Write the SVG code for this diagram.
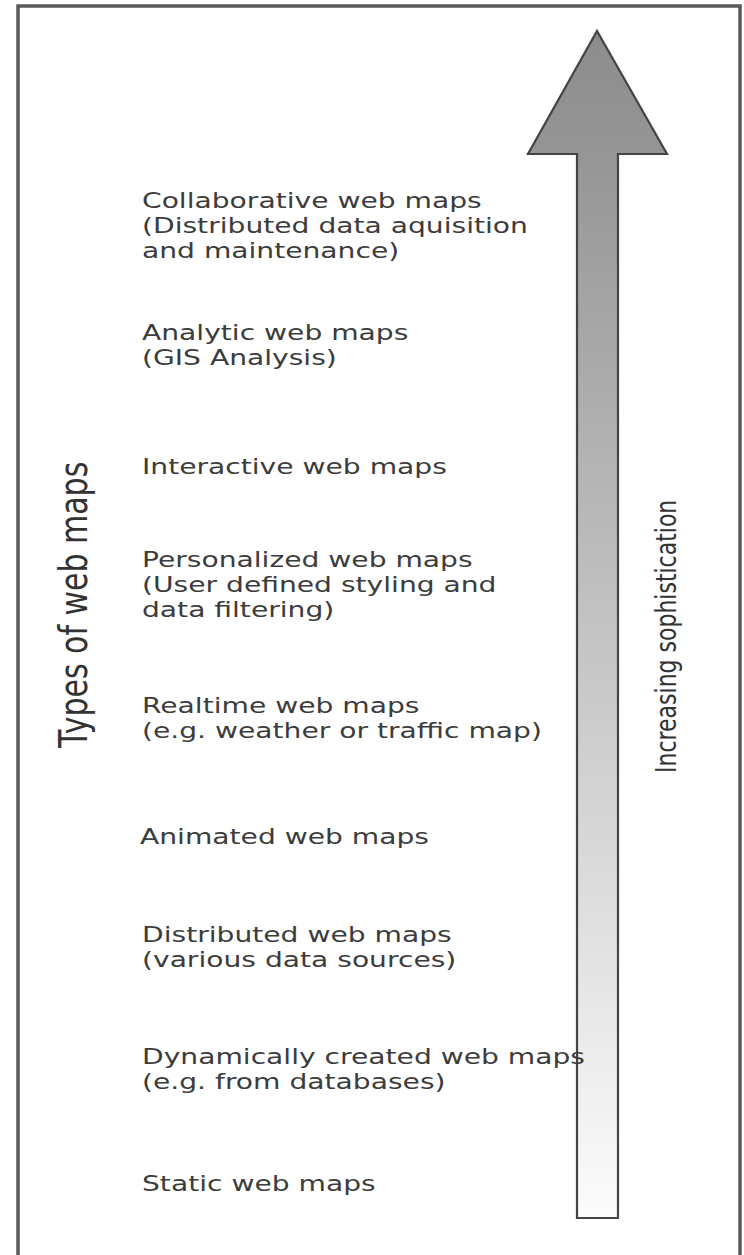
<svg xmlns="http://www.w3.org/2000/svg" width="744" height="1255" viewBox="0 0 744 1255">
<defs>
<linearGradient id="arrowGrad" gradientUnits="userSpaceOnUse" x1="0" y1="31" x2="0" y2="1218">
<stop offset="0" stop-color="#8c8c8c"/>
<stop offset="0.1" stop-color="#959595"/>
<stop offset="1" stop-color="#fcfcfc"/>
</linearGradient>
<style>
.lbl{font-family:"DejaVu Sans","Liberation Sans",sans-serif;font-size:22px;fill:#3c3c3c;}
.side{font-family:"DejaVu Sans","Liberation Sans",sans-serif;fill:#333;}
</style>
</defs>
<rect x="0" y="0" width="744" height="1255" fill="#ffffff"/>
<rect id="frame" x="18" y="6" width="722" height="1270" fill="none" stroke="#5a5a5a" stroke-width="3.5"/>
<g id="connectors">
<path id="arrow" d="M577,1218 L577,154 L528,154 L597,31 L667,154 L618,154 L618,1218 Z" fill="url(#arrowGrad)" stroke="#444" stroke-width="2.2" stroke-linejoin="miter"/>
</g>
<g id="n-collaborative"><text class="lbl" transform="translate(142,208) scale(1.28,1)"><tspan x="0" y="0">Collaborative web maps</tspan><tspan x="0" y="25">(Distributed data aquisition</tspan><tspan x="0" y="50">and maintenance)</tspan></text></g>
<g id="n-analytic"><text class="lbl" transform="translate(142,340) scale(1.28,1)"><tspan x="0" y="0">Analytic web maps</tspan><tspan x="0" y="25">(GIS Analysis)</tspan></text></g>
<g id="n-interactive"><text class="lbl" transform="translate(142,474) scale(1.28,1)">Interactive web maps</text></g>
<g id="n-personalized"><text class="lbl" transform="translate(142,567) scale(1.28,1)"><tspan x="0" y="0">Personalized web maps</tspan><tspan x="0" y="25">(User defined styling and</tspan><tspan x="0" y="50">data filtering)</tspan></text></g>
<g id="n-realtime"><text class="lbl" transform="translate(142,713) scale(1.28,1)"><tspan x="0" y="0">Realtime web maps</tspan><tspan x="0" y="25">(e.g. weather or traffic map)</tspan></text></g>
<g id="n-animated"><text class="lbl" transform="translate(140,844) scale(1.28,1)">Animated web maps</text></g>
<g id="n-distributed"><text class="lbl" transform="translate(142,942) scale(1.28,1)"><tspan x="0" y="0">Distributed web maps</tspan><tspan x="0" y="25">(various data sources)</tspan></text></g>
<g id="n-dynamic"><text class="lbl" transform="translate(142,1064) scale(1.28,1)"><tspan x="0" y="0">Dynamically created web maps</tspan><tspan x="0" y="25">(e.g. from databases)</tspan></text></g>
<g id="n-static"><text class="lbl" transform="translate(142,1191) scale(1.28,1)">Static web maps</text></g>
<g id="n-types"><text class="side" font-size="30" transform="translate(87,748) rotate(-90) scale(1,1.3)">Types of web maps</text></g>
<g id="n-sophistication"><text class="side" font-size="22" transform="translate(676,773) rotate(-90) scale(1,1.3)">Increasing sophistication</text></g>
</svg>
